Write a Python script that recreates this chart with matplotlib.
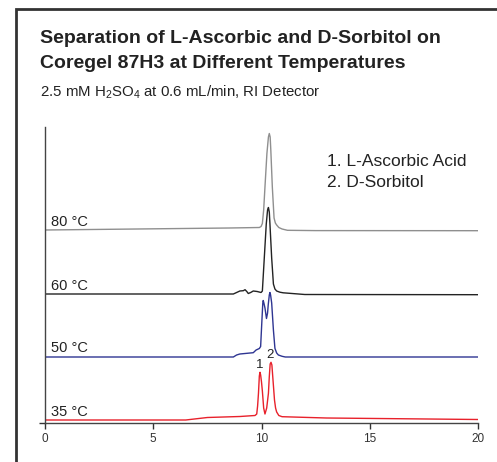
import matplotlib
matplotlib.use('Agg')
import matplotlib.pyplot as plt
import matplotlib.patches as ptc

plt.rcParams['font.family'] = ['Liberation Sans', 'DejaVu Sans']
plt.rcParams['mathtext.fontset'] = 'custom'
plt.rcParams['mathtext.rm'] = 'Liberation Sans'
plt.rcParams['mathtext.default'] = 'regular'

# retention time (min) and detector signal (arbitrary units)
t_80 = [0, 8.5, 9.9, 9.98, 10.04, 10.1, 10.16, 10.25, 10.32, 10.36, 10.4, 10.43, 10.5,
        10.58, 10.64, 10.7, 10.8, 10.95, 11.2, 12.5, 20]
s_80 = [0, 2, 2.5, 3.5, 6.5, 20, 43, 76.5, 93, 96.5, 93, 80, 43,
        12, 7, 5, 2.5, 1, -0.3, -0.6, -0.7]

t_60 = [0, 8.7, 8.85, 9.0, 9.16, 9.24, 9.32, 9.39, 9.5, 9.62, 9.8, 9.98, 10.04, 10.13, 10.22,
        10.28, 10.32, 10.36, 10.39, 10.47, 10.55, 10.62, 10.7, 10.85, 11.0, 12, 20]
s_60 = [0, 0, 1.5, 3, 3.3, 4.3, 2.5, 0.5, 1.5, 3, 2.5, 1.5, 3, 36.5, 70,
        84, 86.5, 82, 70, 36, 10, 5, 3, 1.8, 1.2, -0.5, -0.7]

t_50 = [0, 8.7, 8.85, 9.0, 9.62, 9.75, 9.9, 9.96, 10.02, 10.06, 10.08, 10.11, 10.16, 10.23,
        10.28, 10.31, 10.36, 10.39, 10.42, 10.47, 10.55, 10.62, 10.7, 10.78, 10.95, 11.1, 20]
s_50 = [0, 0, 2, 3, 4.3, 7, 8.5, 10.5, 37, 54, 56.5, 54, 49, 38.5,
        44, 52, 62, 64.5, 62, 54, 27, 8.7, 4, 2, 0.7, 0, 0]

t_35 = [0, 6.5, 7.5, 9.0, 9.7, 9.78, 9.82, 9.86, 9.9, 9.93, 9.96, 10.0, 10.04, 10.1, 10.16,
        10.24, 10.32, 10.36, 10.4, 10.44, 10.48, 10.52, 10.6, 10.65, 10.7, 10.8, 10.95,
        13, 20]
s_35 = [0, 0, 2.5, 3.5, 4.5, 6, 14, 26.7, 44, 47.7, 45, 38, 29, 12, 6,
        12, 26.7, 43.3, 56, 57.7, 55, 43.3, 20, 12, 8, 4.5, 3.3, 2, 0.5]

temps = ['80 \u00b0C', '60 \u00b0C', '50 \u00b0C', '35 \u00b0C']
offsets = [193, 129, 66, 3]
colors = ['#8f8f8f', '#232323', '#2e3592', '#e8212b']
traces = [(t_80, s_80), (t_60, s_60), (t_50, s_50), (t_35, s_35)]

peak_labels = ['1', '2']
peak_times = [9.9, 10.39]
peak_heights = [54.7, 65.3]

legend_lines = ['1. L-Ascorbic Acid', '2. D-Sorbitol']

fig = plt.figure(figsize=(4.97, 4.62), dpi=100)
ax = fig.add_axes([45 / 497, 1 - 423 / 462, 433 / 497, 296 / 462])

for (t, s), off, c, lab in zip(traces, offsets, colors, temps):
    ax.plot(t, [v + off for v in s], color=c, lw=1.0, solid_joinstyle='round')
    ax.text(0.3, off + 4.5, lab, fontsize=10.5, color='#222222', va='baseline', ha='left')

for lab, pt, ph in zip(peak_labels, peak_times, peak_heights):
    ax.text(pt, ph, lab, fontsize=9.5, color='#222222', ha='center', va='baseline')

ax.text(13.02, 257, legend_lines[0], fontsize=12.5, color='#222222', va='baseline')
ax.text(13.02, 235.7, legend_lines[1], fontsize=12.5, color='#222222', va='baseline')

ax.set_xlim(0, 20)
ax.set_ylim(0, 296)
ax.set_xticks([0, 5, 10, 15, 20])
ax.set_yticks([0])
ax.set_yticklabels([])
ax.tick_params(axis='x', direction='out', length=4, width=1, colors='#333333',
               labelsize=8.5, pad=3)
ax.tick_params(axis='y', direction='out', length=4, width=1, colors='#333333')
for side in ['top', 'right']:
    ax.spines[side].set_visible(False)
for side in ['left', 'bottom']:
    ax.spines[side].set_color('#444444')
    ax.spines[side].set_linewidth(1)

# outer frame, only left and top edges are inside the picture
frame = ptc.Rectangle((16 / 497, -0.1), 1.2, 1.1 - 9 / 462, transform=fig.transFigure,
                      fill=False, lw=2, edgecolor='#333333', clip_on=False)
fig.patches.append(frame)

fig.text(40 / 497, 1 - 42.7 / 462, 'Separation of L-Ascorbic and D-Sorbitol on',
         fontsize=14, fontweight='bold', color='#222222', va='baseline')
fig.text(40 / 497, 1 - 68 / 462, 'Coregel 87H3 at Different Temperatures',
         fontsize=14, fontweight='bold', color='#222222', va='baseline')
fig.text(40 / 497, 1 - 97 / 462, r'2.5 mM H$_2$SO$_4$ at 0.6 mL/min, RI Detector',
         fontsize=10.8, color='#222222', va='baseline')

fig.savefig('out.png', dpi=100)
